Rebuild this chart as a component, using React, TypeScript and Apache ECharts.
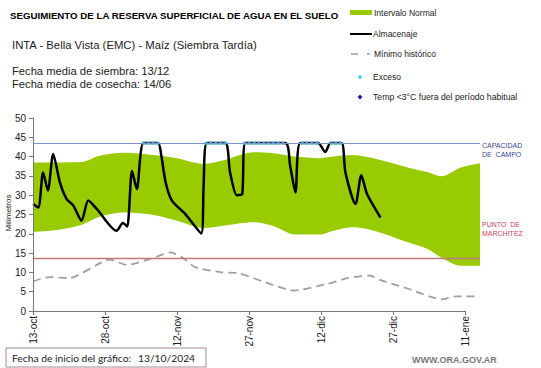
import React, { useEffect, useRef } from 'react';
import * as echarts from 'echarts';

// Days counted from the chart start date (13/10/2024)
const tickDays = [0, 15, 30, 45, 60, 75, 90];
const tickLabels = ['13-oct', '28-oct', '12-nov', '27-nov', '12-dic', '27-dic', '11-ene'];

// Intervalo normal (band)
const bandDays = [0, 5, 10, 14, 19, 25, 30, 35.5, 39.5, 46, 50, 54.5, 59.5, 62.5, 66.5, 71, 78, 82, 85, 89, 93];
const bandLower = [20.5, 21.0, 22.3, 24.5, 25.5, 24.9, 23.4, 21.5, 22.1, 23.0, 22.0, 19.8, 19.8, 20.8, 21.7, 20.8, 17.8, 16.1, 13.8, 11.7, 11.7];
const bandUpper = [38.5, 38.5, 38.6, 40.3, 41.0, 40.4, 39.6, 38.1, 39.0, 41.1, 40.9, 40.0, 39.6, 40.0, 40.4, 39.5, 37.2, 36.0, 34.9, 37.2, 38.3];

// Almacenaje
const storageDays = [0, 1.1, 2.1, 3.1, 4.2, 5.6, 7, 8.4, 10.1, 11.5, 13.3, 17.4, 18.7, 19.6, 20.6, 21.6, 23, 26, 26.7, 27.6, 28.9, 31.7, 35, 35.5, 36.2, 40, 41, 42.4, 43.5, 44.2, 52.5, 53.5, 54.6, 55.6, 59.3, 60.8, 61.9, 64.2, 65, 67.1, 68.3, 69.5, 72.3];
const storageValues = [27.7, 26.8, 35.9, 31.2, 40.7, 33.3, 29.0, 27.3, 23.4, 28.6, 26.4, 20.8, 22.8, 21.9, 36.3, 31.6, 43.5, 43.5, 40.2, 33.3, 28.6, 25.1, 20.1, 32.5, 43.5, 43.5, 35.9, 30.0, 30.2, 43.5, 43.5, 37.6, 30.7, 43.5, 43.5, 41.2, 43.5, 43.5, 35.9, 27.7, 35.2, 30.3, 24.2];

// Mínimo histórico
const minDays = [0, 3.5, 7.5, 16, 19.5, 24.4, 28.7, 31, 33.8, 39.3, 42.8, 47.5, 54.2, 61.2, 65.4, 70, 72.3, 78.2, 85, 88, 93];
const minValues = [7.7, 8.8, 8.5, 13.3, 11.9, 13.5, 15.2, 13.9, 11.3, 10.0, 9.8, 7.8, 5.3, 7.0, 8.5, 9.2, 8.0, 5.7, 3.0, 3.8, 3.8];

// Exceso (days at field capacity)
const excessDays = [23, 24, 25, 26, 36, 37, 38, 39, 40, 44, 45, 46, 47, 48, 49, 50, 51, 52, 56, 57, 58, 59, 62, 63, 64];
const excessValue = 43.5;

const fieldCapacity = 43.5;
const wiltingPoint = 13.6;

const FONT = '"Liberation Sans", Arial, sans-serif';
const FOOT_FONT = 'Lato, "Open Sans", sans-serif';

export default function App() {
  const ref = useRef<HTMLDivElement>(null);
  useEffect(() => {
    if (!ref.current) return;
    const chart = echarts.init(ref.current, undefined, { renderer: 'svg' });
    const pair = (xs: number[], ys: number[]) => xs.map((x, i) => [x, ys[i]]);
    const txt = (text: string, x: number, y: number, size: number, fill: string, extra: any = {}) => ({
      type: 'text',
      x,
      y,
      silent: true,
      style: { text, fontSize: size, fontFamily: FONT, fill, textVerticalAlign: 'middle', ...extra },
    });
    chart.setOption({
      animation: false,
      backgroundColor: '#ffffff',
      grid: { left: 33, top: 118, width: 447, height: 193, containLabel: false },
      xAxis: {
        type: 'value',
        min: 0,
        max: 93,
        interval: 15,
        z: 10,
        axisLine: { show: false },
        axisTick: { show: true, customValues: tickDays, length: 4, lineStyle: { color: '#777' } },
        axisLabel: {
          customValues: tickDays,
          rotate: 90,
          margin: 5,
          fontSize: 10,
          fontFamily: FONT,
          color: '#222',
          formatter: (v: number) => {
            const i = tickDays.indexOf(v);
            return i >= 0 ? tickLabels[i] : '';
          },
        },
        splitLine: { show: false },
      },
      yAxis: {
        type: 'value',
        min: 0,
        max: 50,
        interval: 5,
        z: 10,
        axisLine: { show: true, lineStyle: { color: '#777' } },
        axisTick: { show: true, length: 4, lineStyle: { color: '#777' } },
        axisLabel: { fontSize: 10, fontFamily: FONT, color: '#222', margin: 7 },
        splitLine: { show: false },
      },
      series: [
        {
          name: 'Intervalo Normal',
          type: 'line',
          data: pair(bandDays, bandUpper),
          symbol: 'none',
          smooth: 0.3,
          lineStyle: { opacity: 0 },
          areaStyle: { color: '#99cc00', opacity: 1, origin: 'start' },
          silent: true,
          z: 1,
        },
        {
          name: 'bandBase',
          type: 'line',
          data: pair(bandDays, bandLower),
          symbol: 'none',
          smooth: 0.3,
          lineStyle: { opacity: 0 },
          areaStyle: { color: '#ffffff', opacity: 1, origin: 'start' },
          silent: true,
          z: 1,
        },
        {
          name: 'Mínimo histórico',
          type: 'line',
          data: pair(minDays, minValues),
          symbol: 'none',
          smooth: 0.2,
          lineStyle: { color: '#a0a0a0', width: 1.8, type: [8, 5] },
          z: 2,
          markLine: {
            silent: true,
            symbol: 'none',
            label: { show: false },
            data: [
              { yAxis: fieldCapacity, lineStyle: { color: '#7f93c9', width: 1.2, type: 'solid' } },
              { yAxis: wiltingPoint, lineStyle: { color: '#c07a7a', width: 1.3, type: 'solid' } },
              [
                { coord: [0, 0], lineStyle: { color: '#777', width: 1, type: 'solid' } },
                { coord: [90, 0] },
              ],
            ],
          },
        },
        {
          name: 'Almacenaje',
          type: 'line',
          data: pair(storageDays, storageValues),
          symbol: 'none',
          smooth: 0.25,
          lineStyle: { color: '#000000', width: 2.5 },
          z: 3,
        },
        {
          name: 'Exceso',
          type: 'scatter',
          data: excessDays.map((d) => [d, excessValue]),
          symbol: 'circle',
          symbolSize: 3.6,
          itemStyle: { color: '#33ccff' },
          z: 4,
        },
      ],
      graphic: [
        txt('SEGUIMIENTO DE LA RESERVA SUPERFICIAL DE AGUA EN EL SUELO', 10, 15, 9.7, '#000', { fontWeight: 'bold' }),
        txt('INTA - Bella Vista (EMC) - Maíz (Siembra Tardía)', 12, 45, 11.3, '#222'),
        txt('Fecha media de siembra: 13/12', 12, 70.5, 11.2, '#222'),
        txt('Fecha media de cosecha: 14/06', 12, 83.5, 11.2, '#222'),
        // legend
        { type: 'rect', shape: { x: 350, y: 10, width: 22, height: 5 }, style: { fill: '#99cc00' }, silent: true },
        txt('Intervalo Normal', 374, 12.5, 8.5, '#222'),
        { type: 'line', shape: { x1: 350, y1: 34, x2: 372, y2: 34 }, style: { stroke: '#000', lineWidth: 2 }, silent: true },
        txt('Almacenaje', 373, 34, 8.5, '#222'),
        { type: 'line', shape: { x1: 351, y1: 54, x2: 358, y2: 54 }, style: { stroke: '#a0a0a0', lineWidth: 1.5 }, silent: true },
        { type: 'line', shape: { x1: 367, y1: 54, x2: 370, y2: 54 }, style: { stroke: '#a0a0a0', lineWidth: 1.5 }, silent: true },
        txt('Mínimo histórico', 374, 54, 8.5, '#222'),
        { type: 'circle', shape: { cx: 360, cy: 77, r: 1.8 }, style: { fill: '#33ccff' }, silent: true },
        txt('Exceso', 373, 77, 8.5, '#222'),
        {
          type: 'polygon',
          shape: { points: [[360, 94.5], [362.5, 97], [360, 99.5], [357.5, 97]] },
          style: { fill: '#1a1a9a' },
          silent: true,
        },
        txt('Temp <3°C fuera del período habitual', 373, 97, 8.7, '#222'),
        // reference lines labels
        txt('CAPACIDAD', 482, 145, 7, '#3a46a8'),
        txt('DE  CAMPO', 482, 154, 7, '#3a46a8'),
        txt('PUNTO  DE', 482, 224, 7, '#d0405a'),
        txt('MARCHITEZ', 482, 233, 7, '#d0405a'),
        // y axis name
        {
          type: 'text',
          x: 8,
          y: 213,
          rotation: Math.PI / 2,
          silent: true,
          style: { text: 'Milímetros', fontSize: 8, fontFamily: FONT, fill: '#222', textAlign: 'center', textVerticalAlign: 'middle' },
        },
        // footer
        { type: 'rect', shape: { x: 6, y: 348, width: 200, height: 19 }, style: { fill: 'none', stroke: '#a58a8a', lineWidth: 1 }, silent: true },
        txt('Fecha de inicio del gráfico:', 12, 358, 10.3, '#222', { fontFamily: FOOT_FONT }),
        txt('13/10/2024', 138, 358, 10.3, '#222', { fontFamily: FOOT_FONT }),
        txt('WWW.ORA.GOV.AR', 412, 360, 9, '#777', { fontWeight: 'bold' }),
      ],
    });
    return () => chart.dispose();
  }, []);
  return <div ref={ref} style={{ position: 'absolute', left: 0, top: 0, width: 541, height: 368 }} />;
}
